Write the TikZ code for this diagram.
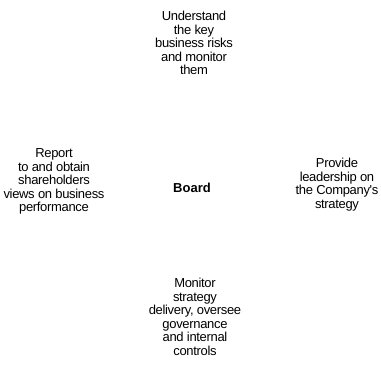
\documentclass[tikz,border=0pt]{standalone}
\usepackage{fontspec}
\setmainfont{Liberation Sans}
\newfontfamily\tightsans[LetterSpace=-2.5]{Liberation Sans}
\tikzset{
  lbl/.style={align=center, inner sep=0pt, anchor=base, font=\tightsans\fontsize{13}{13.5}\selectfont},
  hub/.style={inner sep=0pt, anchor=base, font=\fontsize{13}{14}\selectfont\bfseries}
}
\begin{document}
\begin{tikzpicture}[x=1pt,y=1pt]
\useasboundingbox (0,0) rectangle (381,371);
% anchor=base of a multi-line node sits on its last line's baseline
\node[hub] (board) at (192,{371-193}) {Board};
\node[lbl] (top) at (194,{371-75}) {Understand\\the key\\business risks\\and monitor\\them};
\node[lbl] (left) at (54,{371-212}) {Report\\to and obtain\\shareholders\\views on business\\performance};
\node[lbl] (right) at (337,{371-208.5}) {Provide\\leadership on\\the Company's\\strategy};
\node[lbl] (bottom) at (195,{371-355.5}) {Monitor\\strategy\\delivery, oversee\\governance\\and internal\\controls};
\end{tikzpicture}
\end{document}
